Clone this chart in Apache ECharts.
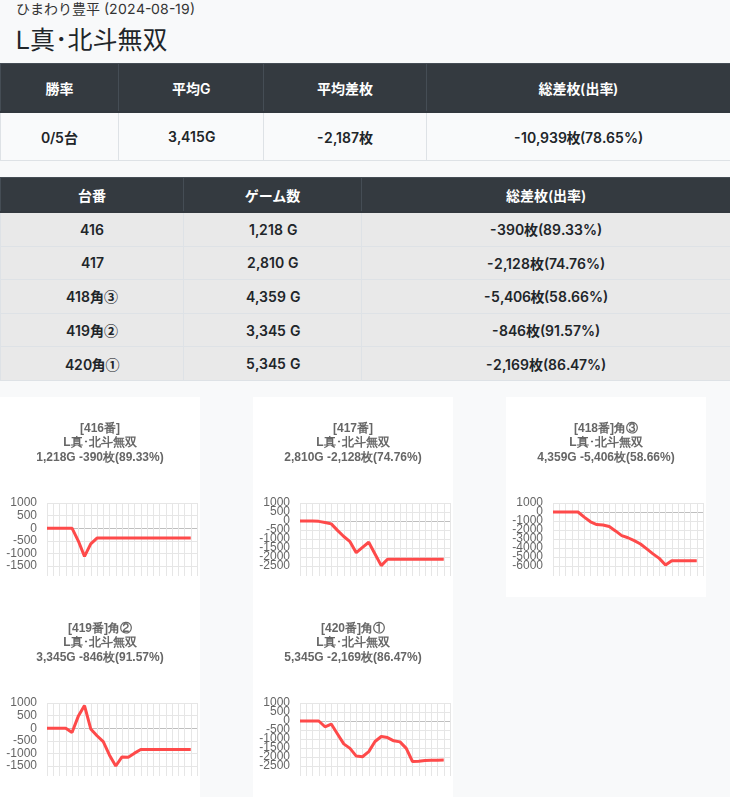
<!DOCTYPE html>
<html>
<head>
<meta charset="utf-8">
<script src="https://cdn.jsdelivr.net/npm/echarts@6/dist/echarts.min.js"></script>
<style>
  @font-face {
    font-family: "LatinInter";
    src: local("Inter"), local("Inter Regular");
    unicode-range: U+0000-00FF;
    font-weight: 400;
  }
  @font-face {
    font-family: "LatinInter";
    src: local("Inter SemiBold"), local("Inter-SemiBold"), local("Inter");
    unicode-range: U+0000-00FF;
    font-weight: 600;
  }
  html, body { margin: 0; padding: 0; }
  body {
    width: 730px; height: 797px; overflow: hidden; position: relative;
    background: #f8f9fa; color: #212529;
    font-family: "LatinInter", "Noto Sans CJK JP", sans-serif;
  }
  .shop { position: absolute; left: 16px; top: -2px; font-size: 14px; color: #333; }
  .title { position: absolute; left: 16px; top: 20px; font-size: 25px; color: #212529; }
  table { position: absolute; left: 0; width: 730px; border-collapse: collapse; table-layout: fixed; }
  th, td { text-align: center; font-size: 14px; font-weight: 600; padding: 0; }
  th { background: #343a40; color: #fff; border: 1px solid #454d55; border-bottom: 2px solid #32383e; }
  td { border: 1px solid #dee2e6; }
  #summary { top: 63px; }
  #summary th { height: 47px; }
  #summary td { height: 47px; background: #f9fafb; }
  #units { top: 177px; }
  #units th { height: 33px; }
  #units td { height: 32.6px; background: #e9e9e9; }
  .box { position: absolute; width: 200px; height: 200px; background: #fff; }
</style>
</head>
<body>
<div class="shop">ひまわり豊平 (2024-08-19)</div>
<div class="title">L真･北斗無双</div>
<table id="summary"></table>
<table id="units"></table>
<div id="charts"></div>
<script>
// 集計
const summaryHead = ['勝率', '平均G', '平均差枚', '総差枚(出率)'];
const summaryRow = ['0/5台', '3,415G', '-2,187枚', '-10,939枚(78.65%)'];
const summaryWidths = [118, 145, 163, 304];

// 台ごとの結果
const unitHead = ['台番', 'ゲーム数', '総差枚(出率)'];
const unitWidths = [183, 178, 369];
const unitNames = ['416', '417', '418角③', '419角②', '420角①'];
const unitGames = ['1,218 G', '2,810 G', '4,359 G', '3,345 G', '5,345 G'];
const unitDiffs = ['-390枚(89.33%)', '-2,128枚(74.76%)', '-5,406枚(58.66%)', '-846枚(91.57%)', '-2,169枚(86.47%)'];

// グラフ
const chartTitles = [
  '[416番]\nL真･北斗無双\n1,218G -390枚(89.33%)',
  '[417番]\nL真･北斗無双\n2,810G -2,128枚(74.76%)',
  '[418番]角③\nL真･北斗無双\n4,359G -5,406枚(58.66%)',
  '[419番]角②\nL真･北斗無双\n3,345G -846枚(91.57%)',
  '[420番]角①\nL真･北斗無双\n5,345G -2,169枚(86.47%)'
];
const categories = ['1','2','3','4','5','6','7','8','9','10','11','12','13',
  '14','15','16','17','18','19','20','21','22','23','24','25'];
const slump416 = [0, 0, 0, 0, 0, -500, -1120, -620, -390, -390, -390, -390,
  -390, -390, -390, -390, -390, -390, -390, -390, -390, -390, -390, -390];
const slump417 = [0, 0, 0, -20, -80, -160, -520, -860, -1150, -1760, -1470, -1180,
  -1830, -2480, -2128, -2128, -2128, -2128, -2128, -2128, -2128, -2128, -2128, -2128];
const slump418 = [0, 0, 0, 0, 0, -570, -1090, -1390, -1450, -1620, -2100, -2620,
  -2860, -3180, -3550, -4100, -4650, -5150, -5890, -5406, -5406, -5406, -5406, -5406];
const slump419 = [0, 0, 0, 0, -170, 470, 900, -30, -300, -535, -1070, -1500,
  -1140, -1150, -990, -846, -846, -846, -846, -846, -846, -846, -846, -846];
const slump420 = [0, 0, 0, 0, -320, -170, -720, -1270, -1520, -1950, -1985, -1700,
  -1140, -860, -920, -1100, -1160, -1520, -2250, -2230, -2190, -2180, -2175, -2169];
const slumps = [slump416, slump417, slump418, slump419, slump420];

// y 軸の目盛り (下から上)
const ticks1500 = ['-1500', '-1000', '-500', '0', '500', '1000'];
const ticks2500 = ['-2500', '-2000', '-1500', '-1000', '-500', '0', '500', '1000'];
const ticks6000 = ['-6000', '-5000', '-4000', '-3000', '-2000', '-1000', '0', '1000'];
const yTicks = [ticks1500, ticks2500, ticks6000, ticks1500, ticks2500];
const yStep = [500, 500, 1000, 500, 500];

const boxPos = [[0, 397], [253, 397], [506, 397], [0, 597], [253, 597]];

function buildTable (id, head, rows, widths) {
  const t = document.getElementById(id);
  let html = '<colgroup>' + widths.map(w => '<col style="width:' + w + 'px">').join('') + '</colgroup>';
  html += '<tr>' + head.map(h => '<th>' + h + '</th>').join('') + '</tr>';
  rows.forEach(r => { html += '<tr>' + r.map(c => '<td>' + c + '</td>').join('') + '</tr>'; });
  t.innerHTML = html;
}
buildTable('summary', summaryHead, [summaryRow], summaryWidths);
buildTable('units', unitHead, unitNames.map((n, i) => [n, unitGames[i], unitDiffs[i]]), unitWidths);

const gridColor = '#e6e6e6';
const zeroColor = '#bfbfbf';
const holder = document.getElementById('charts');

slumps.forEach((data, i) => {
  const dom = document.createElement('div');
  dom.className = 'box';
  dom.style.left = boxPos[i][0] + 'px';
  dom.style.top = boxPos[i][1] + 'px';
  holder.appendChild(dom);

  const ticks = yTicks[i];
  const yMin = Number(ticks[0]);
  const yMax = Number(ticks[ticks.length - 1]);
  // 0 の線だけ濃くする
  const lineColors = ticks.map(t => (t === '0' ? zeroColor : gridColor));

  const chart = echarts.init(dom);
  chart.setOption({
    animation: false,
    title: {
      text: chartTitles[i],
      left: 'center',
      top: 19,
      textStyle: {
        fontFamily: 'Liberation Sans', fontSize: 12, fontWeight: 'bold',
        color: '#666', lineHeight: 14.5
      }
    },
    grid: { left: 47, right: 3, top: 106, bottom: 31 },
    xAxis: {
      type: 'category',
      data: categories,
      boundaryGap: false,
      axisLine: { show: false, onZero: false },
      axisTick: { show: true, length: 10, interval: 0, lineStyle: { color: gridColor } },
      axisLabel: { show: false },
      splitLine: { show: true, interval: 0, lineStyle: { color: gridColor } }
    },
    yAxis: [{
      type: 'value',
      min: yMin,
      max: yMax,
      interval: yStep[i],
      axisLine: { show: false },
      axisTick: { show: false },
      axisLabel: { show: false },
      splitLine: { show: true, lineStyle: { color: lineColors } }
    }, {
      // 目盛りラベル (重なっても全部出す)
      type: 'category',
      data: ticks,
      boundaryGap: false,
      position: 'left',
      axisLine: { show: false },
      axisTick: { show: false },
      splitLine: { show: false },
      axisLabel: {
        fontFamily: 'Liberation Sans', fontSize: 12, color: '#666', margin: 10,
        interval: 0, hideOverlap: false
      }
    }],
    series: [{
      type: 'line',
      data: data,
      yAxisIndex: 0,
      showSymbol: false,
      lineStyle: { color: '#fe4a4a', width: 3 },
      itemStyle: { color: '#fe4a4a' }
    }]
  });
});
</script>
</body>
</html>
